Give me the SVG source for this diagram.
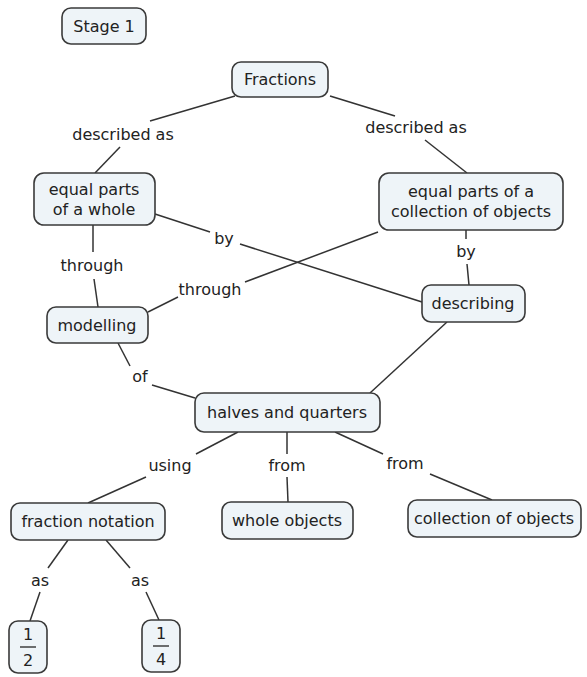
<svg xmlns="http://www.w3.org/2000/svg" width="587" height="677" viewBox="0 0 587 677">
<style>
.box{fill:#eef4f8;stroke:#3a3a3a;stroke-width:1.6}
.t{font-family:"DejaVu Sans",Verdana,sans-serif;font-size:16px;fill:#222;text-anchor:middle;dominant-baseline:central}
.c line{stroke:#333;stroke-width:1.5}
</style>
<rect width="587" height="677" fill="#fff"/>
<g class="c" id="connectors">
<line x1="235" y1="96" x2="150" y2="121"/>
<line x1="120" y1="147" x2="95" y2="173"/>
<line x1="330" y1="96" x2="395" y2="116"/>
<line x1="425" y1="140" x2="467" y2="173"/>
<line x1="155" y1="214" x2="210" y2="232"/>
<line x1="240" y1="244" x2="422" y2="302"/>
<line x1="93" y1="225" x2="93" y2="252"/>
<line x1="94" y1="279" x2="98" y2="307"/>
<line x1="378" y1="232" x2="245" y2="282"/>
<line x1="178" y1="297" x2="148" y2="312"/>
<line x1="466" y1="230" x2="466" y2="239"/>
<line x1="467" y1="264" x2="469" y2="285"/>
<line x1="118" y1="343" x2="130" y2="366"/>
<line x1="152" y1="385" x2="195" y2="398"/>
<line x1="447" y1="322" x2="370" y2="393"/>
<line x1="238" y1="432" x2="196" y2="454"/>
<line x1="146" y1="477" x2="88" y2="503"/>
<line x1="287" y1="432" x2="287" y2="454"/>
<line x1="287" y1="477" x2="288" y2="502"/>
<line x1="335" y1="432" x2="383" y2="454"/>
<line x1="430" y1="474" x2="492" y2="500"/>
<line x1="68" y1="540" x2="48" y2="568"/>
<line x1="40" y1="592" x2="30" y2="621"/>
<line x1="106" y1="540" x2="130" y2="568"/>
<line x1="146" y1="592" x2="159" y2="620"/>
</g>
<g id="stage1"><rect class="box" x="62" y="8" width="84" height="36" rx="9"/><text class="t" x="104" y="26">Stage 1</text></g>
<g id="fractions"><rect class="box" x="232" y="62" width="96" height="35" rx="9"/><text class="t" x="280" y="79">Fractions</text></g>
<g id="lbl-described-1"><text class="t" x="123" y="134">described as</text></g>
<g id="lbl-described-2"><text class="t" x="416" y="127">described as</text></g>
<g id="whole"><rect class="box" x="34" y="173" width="121" height="52" rx="10"/><text class="t" x="94" y="189">equal parts</text><text class="t" x="94" y="209">of a whole</text></g>
<g id="collection"><rect class="box" x="379" y="173" width="184" height="57" rx="10"/><text class="t" x="471" y="191">equal parts of a</text><text class="t" x="471" y="211">collection of objects</text></g>
<g id="lbl-by-1"><text class="t" x="224" y="238">by</text></g>
<g id="lbl-through-1"><text class="t" x="92" y="265">through</text></g>
<g id="lbl-through-2"><text class="t" x="210" y="289">through</text></g>
<g id="lbl-by-2"><text class="t" x="466" y="251">by</text></g>
<g id="modelling"><rect class="box" x="47" y="307" width="101" height="36" rx="9"/><text class="t" x="97" y="325">modelling</text></g>
<g id="describing"><rect class="box" x="422" y="285" width="103" height="37" rx="9"/><text class="t" x="473" y="303">describing</text></g>
<g id="lbl-of"><text class="t" x="140" y="376">of</text></g>
<g id="halves"><rect class="box" x="195" y="393" width="185" height="39" rx="9"/><text class="t" x="287" y="412">halves and quarters</text></g>
<g id="lbl-using"><text class="t" x="170" y="465">using</text></g>
<g id="lbl-from-1"><text class="t" x="287" y="465">from</text></g>
<g id="lbl-from-2"><text class="t" x="405" y="463">from</text></g>
<g id="notation"><rect class="box" x="11" y="503" width="154" height="37" rx="9"/><text class="t" x="88" y="521">fraction notation</text></g>
<g id="wholeobj"><rect class="box" x="222" y="502" width="131" height="37" rx="9"/><text class="t" x="287" y="520">whole objects</text></g>
<g id="collobj"><rect class="box" x="408" y="500" width="173" height="37" rx="9"/><text class="t" x="494" y="518">collection of objects</text></g>
<g id="lbl-as-1"><text class="t" x="40" y="580">as</text></g>
<g id="lbl-as-2"><text class="t" x="140" y="580">as</text></g>
<g id="half"><rect class="box" x="9" y="621" width="38" height="52" rx="9"/><text class="t" x="28" y="634">1</text><line x1="20" y1="647" x2="36" y2="647" stroke="#333" stroke-width="1.4"/><text class="t" x="28" y="660">2</text></g>
<g id="quarter"><rect class="box" x="142" y="620" width="38" height="52" rx="9"/><text class="t" x="161" y="633">1</text><line x1="153" y1="646" x2="169" y2="646" stroke="#333" stroke-width="1.4"/><text class="t" x="161" y="659">4</text></g>
</svg>
